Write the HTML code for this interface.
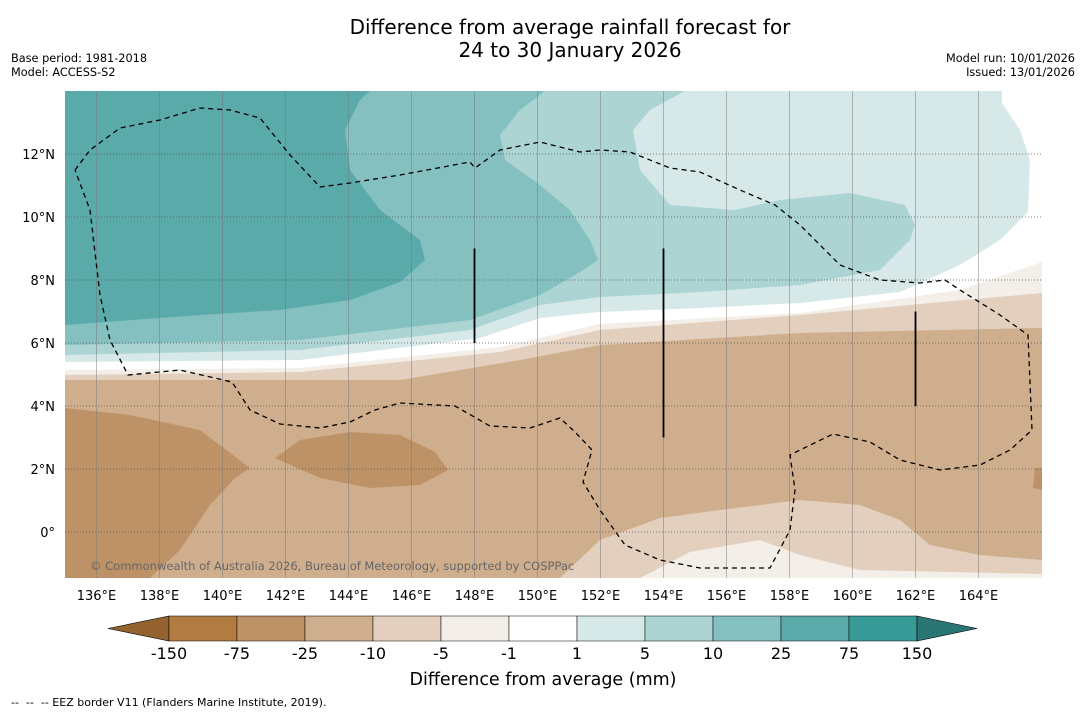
<!DOCTYPE html>
<html><head><meta charset="utf-8"><style>
body{margin:0;background:#fff;width:1085px;height:713px;overflow:hidden;font-family:"Liberation Sans","DejaVu Sans",sans-serif}
svg text{font-family:"DejaVu Sans","Liberation Sans",sans-serif}
</style></head><body>
<svg id="chart" width="1085" height="713" viewBox="0 0 1085 713" xmlns="http://www.w3.org/2000/svg">
<text x="570" y="34" font-size="20" text-anchor="middle" fill="#000">Difference from average rainfall forecast for</text>
<text x="570" y="57" font-size="20" text-anchor="middle" fill="#000">24 to 30 January 2026</text>
<text x="11" y="62" font-size="11.3">Base period: 1981-2018</text>
<text x="11" y="76" font-size="11.3">Model: ACCESS-S2</text>
<text x="1075" y="62" font-size="11.3" text-anchor="end">Model run: 10/01/2026</text>
<text x="1075" y="76" font-size="11.3" text-anchor="end">Issued: 13/01/2026</text>
<defs><clipPath id="mapclip"><rect x="65" y="91" width="977" height="487"/></clipPath></defs>
<g id="map" clip-path="url(#mapclip)"></g>
<g id="axes"></g>
<g id="cbar"></g>
<text x="543" y="685" font-size="17.5" text-anchor="middle">Difference from average (mm)</text>
<text x="11" y="706" font-size="11" xml:space="preserve" style="white-space:pre">--  --  -- EEZ border V11 (Flanders Marine Institute, 2019).</text>
</svg>
<script>
const NS="http://www.w3.org/2000/svg";
// colour scale data
const levelLabels=["-150","-75","-25","-10","-5","-1","1","5","10","25","75","150"];
const bandColors=["#b17b42","#be9267","#cfae8d","#e3cfbd","#f3eee8","#ffffff","#d6e9e8","#abd4d3","#84c0bf","#5aaaaa","#389b98"];
const underColor="#93622f", overColor="#2a7674";
// map geometry
const lonMin=135,latTop=14.0,pxPerDeg=31.5,x0=65,y0=91;
const lonTicks=[136,138,140,142,144,146,148,150,152,154,156,158,160,162,164];
const latTicks=[12,10,8,6,4,2,0];
function X(lon){return x0+(lon-lonMin)*pxPerDeg;}
function Y(lat){return y0+(latTop-lat)*pxPerDeg;}
function px2ll(p){return [lonMin+(p[0]-x0)/pxPerDeg, latTop-(p[1]-y0)/pxPerDeg];}
// anomaly regions [band index, lon/lat outline]
const P=a=>a.map(px2ll);
const regions=[
 [2,P([[65,91],[1042,91],[1042,578],[65,578]])],
 [1,P([[65,408],[130,415],[200,430],[250,468],[235,478],[210,505],[180,550],[150,578],[65,578]])],
 [1,P([[275,458],[300,440],[350,432],[400,435],[435,452],[448,470],[420,485],[370,488],[320,478]])],
 [1,P([[1035,468],[1042,468],[1042,490],[1033,488]])],
 [3,P([[560,578],[600,540],[660,518],[720,510],[800,500],[860,505],[900,520],[930,545],[980,555],[1042,560],[1042,578]])],
 [4,P([[640,578],[690,552],[760,540],[800,555],[860,570],[1042,574],[1042,578]])],
 [3,P([[65,380],[400,380],[520,360],[600,345],[800,333],[1042,328],[1042,91],[65,91]])],
 [4,P([[65,375],[300,372],[500,352],[600,330],[800,315],[1042,293],[1042,91],[65,91]])],
 [5,P([[65,370],[300,368],[500,347],[600,324],[800,313],[960,290],[1042,262],[1042,91],[65,91]])],
 [6,P([[65,362],[300,360],[480,338],[540,318],[600,312],[700,308],[800,303],[900,292],[960,265],[1000,240],[1028,212],[1030,160],[1020,130],[1002,103],[1002,91],[65,91]])],
 [7,P([[65,355],[300,350],[470,330],[540,305],[600,297],[700,292],[800,285],[880,270],[910,240],[915,225],[905,205],[850,193],[780,200],[735,210],[670,205],[640,170],[633,130],[650,110],[685,91],[65,91]])],
 [8,P([[65,345],[300,340],[470,320],[540,295],[580,272],[598,260],[590,240],[570,210],[540,185],[505,160],[500,135],[520,110],[545,91],[65,91]])],
 [9,P([[65,325],[200,315],[280,310],[350,300],[400,282],[425,260],[420,240],[380,210],[350,170],[345,130],[360,100],[370,91],[65,91]])]
];
const eez=P([[75,170],[90,150],[120,128],[160,120],[200,108],[230,110],[260,118],[290,155],[320,187],[350,183],[400,175],[470,162],[475,168],[500,150],[540,142],[580,152],[600,150],[630,152],[670,168],[700,172],[740,190],[775,205],[800,225],[840,265],[880,280],[920,283],[945,280],[960,290],[1000,315],[1028,335],[1032,430],[1010,450],[980,465],[940,470],[900,460],[870,442],[833,434],[800,450],[790,455],[795,490],[790,530],[770,568],[700,568],[660,560],[625,545],[600,510],[583,482],[592,450],[575,432],[560,418],[530,428],[490,426],[455,406],[400,403],[375,410],[350,422],[320,428],[280,424],[250,410],[232,382],[180,370],[128,375],[110,340],[100,295],[90,210],[75,170]]);
const meridianMarks=[[148,9,6],[154,9,3],[162,7,4]];
function el(t,a,p){const e=document.createElementNS(NS,t);for(const k in a)e.setAttribute(k,a[k]);p.appendChild(e);return e;}
const map=document.getElementById('map');
regions.forEach((r,i)=>{
 const e=el('polygon',{points:r[1].map(q=>X(q[0])+','+Y(q[1])).join(' '),fill:bandColors[r[0]]},map);
 
 
});
lonTicks.forEach(l=>{const e=el('line',{x1:X(l),x2:X(l),y1:91,y2:578,stroke:'#777','stroke-width':0.6,opacity:0.8},map);
 });
latTicks.forEach(l=>{const e=el('line',{x1:65,x2:1042,y1:Y(l),y2:Y(l),stroke:'#555','stroke-width':0.8,'stroke-dasharray':'1,2'},map);
 });
const ez=el('polyline',{points:eez.map(q=>X(q[0])+','+Y(q[1])).join(' '),fill:'none',stroke:'#000','stroke-width':1.3,'stroke-dasharray':'5,4'},map);

meridianMarks.forEach(m=>{const e=el('line',{x1:X(m[0]),x2:X(m[0]),y1:Y(m[1]),y2:Y(m[2]),stroke:'#000','stroke-width':1.8},map);
 });
const cr=el('text',{x:90,y:570,'font-size':11.5,fill:'#666'},map);cr.textContent='© Commonwealth of Australia 2026, Bureau of Meteorology, supported by COSPPac';

const ax=document.getElementById('axes');
lonTicks.forEach(l=>{const t=el('text',{x:X(l),y:600,'font-size':13,'text-anchor':'middle'},ax);t.textContent=l+'°E';
 });
latTicks.forEach(l=>{const t=el('text',{x:55,y:Y(l)+5,'font-size':13,'text-anchor':'end'},ax);t.textContent=l===0?'0°':l+'°N';
 });
const cb=document.getElementById('cbar');
const cbX=169,cbW=68,cbY=616,cbH=25;
const ut=el('polygon',{points:`108,${cbY+cbH/2} ${cbX},${cbY} ${cbX},${cbY+cbH}`,fill:underColor,stroke:'#000','stroke-width':0.6},cb);

bandColors.forEach((c,i)=>{const r=el('rect',{x:cbX+i*cbW,y:cbY,width:cbW,height:cbH,fill:c,stroke:'#000','stroke-width':0.5},cb);
 });
const ox=cbX+bandColors.length*cbW;
const ot=el('polygon',{points:`${ox},${cbY} ${ox+60},${cbY+cbH/2} ${ox},${cbY+cbH}`,fill:overColor,stroke:'#000','stroke-width':0.6},cb);

levelLabels.forEach((l,i)=>{const t=el('text',{x:cbX+i*cbW,y:659,'font-size':16,'text-anchor':'middle'},cb);t.textContent=l;
 });
</script>
</body></html>
